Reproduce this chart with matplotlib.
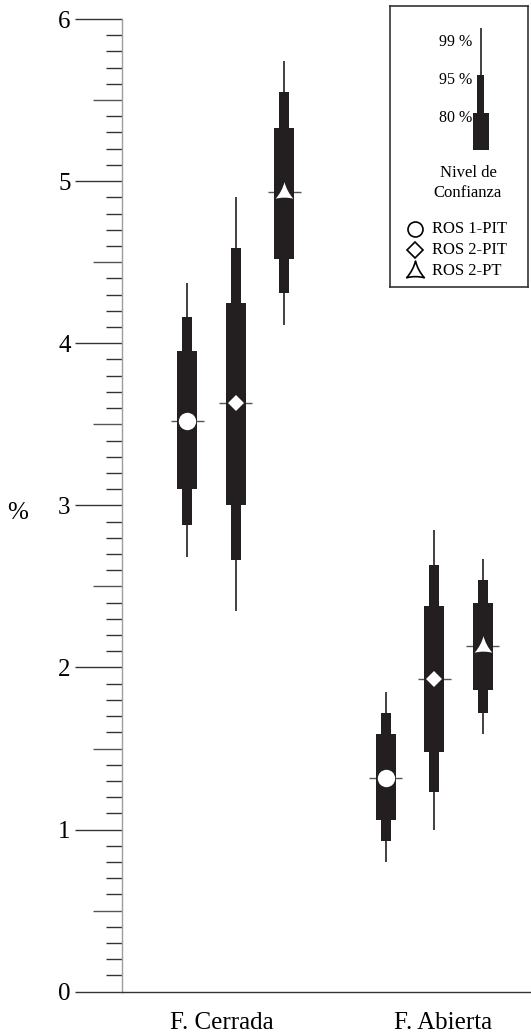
import matplotlib
matplotlib.use("Agg")
import matplotlib.pyplot as plt
from matplotlib.path import Path
import numpy as np

plt.rcParams['font.family'] = ['Liberation Serif', 'DejaVu Serif']

groups = ['F. Cerrada', 'F. Abierta']
series = ['ROS 1-PIT', 'ROS 2-PIT', 'ROS 2-PT']

# values per series: [F. Cerrada, F. Abierta]
medians = [[3.52, 1.32], [3.63, 1.93], [4.93, 2.13]]
lo80 = [[3.10, 1.06], [3.00, 1.48], [4.52, 1.86]]
hi80 = [[3.95, 1.59], [4.25, 2.38], [5.33, 2.40]]
lo95 = [[2.88, 0.93], [2.66, 1.23], [4.31, 1.72]]
hi95 = [[4.16, 1.72], [4.59, 2.63], [5.55, 2.54]]
lo99 = [[2.68, 0.80], [2.35, 1.00], [4.11, 1.59]]
hi99 = [[4.37, 1.85], [4.90, 2.85], [5.74, 2.67]]

levels = ['99 %', '95 %', '80 %']

box_c = '#231f20'
offsets = [-0.245, 0.0, 0.245]

# concave triangle marker
tri_verts = [(0, 1), (-0.22, 0.12), (-0.85, -0.6), (0, -0.38), (0.85, -0.6),
             (0.22, 0.12), (0, 1), (0, 0)]
tri_codes = [Path.MOVETO, Path.CURVE3, Path.CURVE3, Path.CURVE3, Path.CURVE3,
             Path.CURVE3, Path.CURVE3, Path.CLOSEPOLY]
tri_marker = Path(tri_verts, tri_codes)

markers = ['o', 'D', tri_marker]
msizes = [12.5, 8.6, 15]
key_sizes = [10.8, 7.8, 15]

fig = plt.figure(figsize=(5.31, 10.36), dpi=100)
ax = fig.add_axes([122 / 531, 44.3 / 1036, 409 / 531, 972.7 / 1036])
ax.set_ylim(0, 6)
ax.set_xlim(-0.5725, 1.487)

for i in range(len(series)):
    for g in range(len(groups)):
        x = g + offsets[i]
        ax.vlines(x, lo99[i][g], hi99[i][g], color=box_c, lw=1.2, zorder=2)
        ax.bar(x, hi95[i][g] - lo95[i][g], bottom=lo95[i][g], width=0.05,
               color=box_c, zorder=3)
        ax.bar(x, hi80[i][g] - lo80[i][g], bottom=lo80[i][g], width=0.1,
               color=box_c, zorder=3)
        ax.hlines(medians[i][g], x - 0.083, x + 0.083, color='#555555',
                  lw=1, zorder=1)
        ax.plot(x, medians[i][g], marker=markers[i], ms=msizes[i],
                mfc='white', mec='white', mew=0, zorder=4)

for s in ['top', 'right']:
    ax.spines[s].set_visible(False)
ax.spines['left'].set_color('#9d9d9d')
ax.spines['bottom'].set_color('#333333')
ax.spines['left'].set_linewidth(1)
ax.spines['bottom'].set_linewidth(1)

ax.set_yticks(range(0, 7))
ax.set_yticks([k / 10 for k in range(61) if k % 5], minor=True)
ax.tick_params(axis='y', which='major', length=34, width=1, color='#333333',
               labelsize=18, pad=3)
ax.tick_params(axis='y', which='minor', length=11.5, width=1, color='#333333')

sec = ax.secondary_yaxis('left')
sec.set_yticks([k + 0.5 for k in range(6)])
sec.tick_params(length=21, width=1, color='#555555', labelleft=False)
sec.spines['left'].set_visible(False)

ax.set_xticks([-0.07, 1.045], groups)
ax.tick_params(axis='x', length=0, pad=14.5, labelsize=18)

fig.text(18 / 531, 1 - 513 / 1036, '%', fontsize=18, ha='center', va='center')

# key box
lax = fig.add_axes([390 / 531, (1036 - 287) / 1036, 138 / 531, 281 / 1036])
lax.set_xlim(0, 138)
lax.set_ylim(281, 0)
lax.set_xticks([])
lax.set_yticks([])
for s in lax.spines.values():
    s.set_color('#333333')
    s.set_linewidth(1.2)

kx = 90.7
lax.vlines(kx, 22, 144, color=box_c, lw=1.2)
lax.bar(kx, 144 - 69, bottom=69, width=7, color=box_c)
lax.bar(kx, 144 - 107, bottom=107, width=16, color=box_c)
for lab, ky in zip(levels, [36, 74, 112]):
    lax.text(82, ky, lab, fontsize=11.5, ha='right', va='center')
lax.text(78, 167, 'Nivel de', fontsize=12, ha='center', va='center')
lax.text(78, 187, 'Confianza', fontsize=12, ha='center', va='center')

for i, name in enumerate(series):
    ly = 223 + 21 * i
    lax.plot(25, ly, marker=markers[i], ms=key_sizes[i], mfc='white',
             mec='black', mew=1.2)
    lax.text(42, ly, name, fontsize=12, ha='left', va='center')

fig.savefig('out.png', dpi=100)
